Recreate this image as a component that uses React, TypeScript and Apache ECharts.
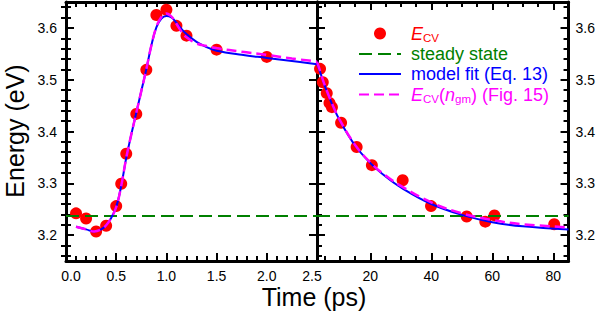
import React, { useEffect, useRef } from 'react';
import * as echarts from 'echarts';

// ---- data ----
const leftTimes = [0.1, 0.2, 0.3, 0.4, 0.5, 0.55, 0.6, 0.7, 0.8, 0.9, 1.0, 1.1, 1.2, 1.5, 2.0];
const leftEcv = [3.242, 3.232, 3.207, 3.218, 3.256, 3.299, 3.357, 3.434, 3.519, 3.625, 3.635, 3.604, 3.585, 3.558, 3.544];

const rightTimes = [3.5, 4.4, 5.7, 6.6, 7.4, 10.4, 15.5, 20.5, 30.6, 39.9, 51.6, 57.7, 60.7, 80.3];
const rightEcv = [3.521, 3.495, 3.474, 3.455, 3.447, 3.417, 3.370, 3.335, 3.306, 3.256, 3.236, 3.226, 3.238, 3.221];

const leftFitTimes = [0.1, 0.2, 0.28, 0.35, 0.4, 0.45, 0.5, 0.55, 0.6, 0.65, 0.7, 0.75, 0.8, 0.85, 0.9, 0.95, 1.0, 1.05, 1.1, 1.15, 1.2, 1.3, 1.4, 1.5, 1.75, 2.0, 2.25, 2.5];
const leftFitE = [3.216, 3.211, 3.207, 3.211, 3.219, 3.233, 3.254, 3.295, 3.349, 3.394, 3.436, 3.478, 3.520, 3.566, 3.601, 3.618, 3.623, 3.620, 3.610, 3.598, 3.588, 3.573, 3.563, 3.556, 3.548, 3.542, 3.536, 3.530];
const leftMagE = [3.216, 3.211, 3.207, 3.211, 3.219, 3.233, 3.254, 3.295, 3.349, 3.394, 3.436, 3.478, 3.520, 3.566, 3.602, 3.621, 3.628, 3.622, 3.608, 3.593, 3.582, 3.570, 3.565, 3.561, 3.554, 3.548, 3.541, 3.535];

const rightFitTimes = [2.5, 3.5, 5, 7.5, 10, 15, 20, 25, 30, 40, 50, 60, 70, 85];
const rightFitE = [3.531, 3.515, 3.489, 3.452, 3.421, 3.373, 3.339, 3.313, 3.292, 3.260, 3.239, 3.225, 3.217, 3.211];
const rightMagE = [3.535, 3.517, 3.490, 3.453, 3.422, 3.374, 3.340, 3.315, 3.295, 3.263, 3.242, 3.229, 3.221, 3.215];

const steadyState = 3.237;

const yMajorTicks = [3.2, 3.3, 3.4, 3.5, 3.6];
const yMinorTicks = [3.16, 3.18, 3.22, 3.24, 3.26, 3.28, 3.32, 3.34, 3.36, 3.38, 3.42, 3.44, 3.46, 3.48, 3.52, 3.54, 3.56, 3.58, 3.62, 3.64];
const rightXMajorTicks = [20, 40, 60, 80];
const rightXMinorTicks = [5, 10, 15, 25, 30, 35, 45, 50, 55, 65, 70, 75];

const NAME_ECV = 'E_CV';
const NAME_SS = 'steady state';
const NAME_FIT = 'model fit (Eq. 13)';
const NAME_MAG = 'E_CV(n_gm) (Fig. 15)';

const FONT = '"Liberation Sans", Arial, Helvetica, sans-serif';
const RED = '#ff0000';
const GREEN = '#008000';
const BLUE = '#0000ff';
const MAGENTA = '#ff00ff';

const zip = (xs: number[], ys: number[]) => xs.map((x, i) => [x, ys[i]]);

export default function App() {
  const ref = useRef<HTMLDivElement>(null);

  useEffect(() => {
    if (!ref.current) return;
    const chart = echarts.init(ref.current, null, { renderer: 'svg' });

    const Y_MIN = 3.15;
    const Y_MAX = 3.65;

    const lineW = 3;
    const majorLen = 8;
    const minorLen = 5;
    const tickStyle = { color: '#000', width: 2 };

    const yMajor = (gridIndex: number, position: 'left' | 'right', labels: boolean) => ({
      type: 'value',
      gridIndex,
      position,
      min: Y_MIN,
      max: Y_MAX,
      axisLine: { show: true, onZero: false, lineStyle: { color: '#000', width: lineW } },
      axisTick: { show: true, inside: true, length: majorLen, lineStyle: tickStyle, customValues: yMajorTicks },
      axisLabel: {
        show: labels,
        customValues: yMajorTicks,
        formatter: (v: number) => v.toFixed(1),
        fontFamily: FONT,
        fontSize: 14,
        color: '#000',
        margin: position === 'left' ? 9 : 7,
      },
      splitLine: { show: false },
    });
    const yMinor = (gridIndex: number, position: 'left' | 'right') => ({
      type: 'value',
      gridIndex,
      position,
      min: Y_MIN,
      max: Y_MAX,
      axisLine: { show: false },
      axisTick: { show: true, inside: true, length: minorLen, lineStyle: tickStyle, customValues: yMinorTicks },
      axisLabel: { show: false },
      splitLine: { show: false },
    });

    const leftX = (position: 'bottom' | 'top', labels: boolean) => ({
      type: 'value',
      gridIndex: 0,
      position,
      min: 0,
      max: 2.5,
      interval: 0.5,
      axisLine: { show: true, onZero: false, lineStyle: { color: '#000', width: lineW } },
      axisTick: { show: true, inside: true, length: majorLen, lineStyle: tickStyle },
      minorTick: { show: true, splitNumber: 5, length: minorLen, lineStyle: tickStyle },
      axisLabel: {
        show: labels,
        fontFamily: FONT,
        fontSize: 14,
        color: '#000',
        margin: 8,
        formatter: (v: number) =>
          v === 0 ? '{a|0.0}' : v === 2.5 ? '{b|2.5}' : v.toFixed(1),
        rich: {
          a: { fontFamily: FONT, fontSize: 14, color: '#000', padding: [0, 0, 0, 10] },
          b: { fontFamily: FONT, fontSize: 14, color: '#000', padding: [0, 10, 0, 0] },
        },
      },
      splitLine: { show: false },
      minorSplitLine: { show: false },
    });
    const rightXMajor = (position: 'bottom' | 'top', labels: boolean) => ({
      type: 'value',
      gridIndex: 1,
      position,
      min: 2.5,
      max: 85,
      axisLine: { show: true, onZero: false, lineStyle: { color: '#000', width: lineW } },
      axisTick: { show: true, inside: true, length: majorLen, lineStyle: tickStyle, customValues: rightXMajorTicks },
      axisLabel: {
        show: labels,
        customValues: rightXMajorTicks,
        formatter: (v: number) => String(v),
        fontFamily: FONT,
        fontSize: 14,
        color: '#000',
        margin: 8,
      },
      splitLine: { show: false },
    });
    const rightXMinor = (position: 'bottom' | 'top') => ({
      type: 'value',
      gridIndex: 1,
      position,
      min: 2.5,
      max: 85,
      axisLine: { show: false },
      axisTick: { show: true, inside: true, length: minorLen, lineStyle: tickStyle, customValues: rightXMinorTicks },
      axisLabel: { show: false },
      splitLine: { show: false },
    });

    const hiddenSymbol = { opacity: 0, color: 'rgba(0,0,0,0)', borderWidth: 0 };

    const option: any = {
      animation: false,
      backgroundColor: '#ffffff',
      grid: [
        { left: 66, top: 2, width: 251, height: 259, containLabel: false },
        { left: 317, top: 2, width: 252, height: 259, containLabel: false },
      ],
      xAxis: [
        leftX('bottom', true), // 0
        leftX('top', false), // 1
        rightXMajor('bottom', true), // 2
        rightXMinor('bottom'), // 3
        rightXMajor('top', false), // 4
        rightXMinor('top'), // 5
      ],
      yAxis: [
        yMajor(0, 'left', true), // 0
        yMinor(0, 'left'), // 1
        yMajor(0, 'right', false), // 2
        yMinor(0, 'right'), // 3
        yMajor(1, 'left', false), // 4
        yMinor(1, 'left'), // 5
        yMajor(1, 'right', true), // 6
        yMinor(1, 'right'), // 7
      ],
      legend: {
        orient: 'vertical',
        left: 358,
        top: 23,
        padding: 0,
        itemGap: 0,
        itemWidth: 42,
        itemHeight: 12,
        selectedMode: false,
        textStyle: {
          fontFamily: FONT,
          fontSize: 18,
          lineHeight: 20,
          padding: [0, 0, 0, 5],
          rich: {
            rI: { fontFamily: FONT, fontSize: 18, fontStyle: 'italic', color: RED, lineHeight: 20 },
            rS: { fontFamily: FONT, fontSize: 11.5, color: RED, lineHeight: 20, padding: [9, 0, 0, 0] },
            mI: { fontFamily: FONT, fontSize: 18, fontStyle: 'italic', color: MAGENTA, lineHeight: 20 },
            mS: { fontFamily: FONT, fontSize: 11.5, color: MAGENTA, lineHeight: 20, padding: [9, 0, 0, 0] },
            m: { fontFamily: FONT, fontSize: 18, color: MAGENTA, lineHeight: 20 },
          },
        },
        data: [
          { name: NAME_ECV, textStyle: { color: RED } },
          { name: NAME_SS, textStyle: { color: GREEN }, itemStyle: hiddenSymbol },
          { name: NAME_FIT, textStyle: { color: BLUE }, itemStyle: hiddenSymbol },
          { name: NAME_MAG, textStyle: { color: MAGENTA }, itemStyle: hiddenSymbol },
        ],
        formatter: (name: string) => {
          if (name === NAME_ECV) return '{rI|E}{rS|CV}';
          if (name === NAME_MAG) return '{mI|E}{mS|CV}{m|(}{mI|n}{mS|gm}{m|) (Fig. 15)}';
          return name;
        },
      },
      graphic: [
        {
          type: 'text',
          x: 314,
          y: 297,
          style: { text: 'Time (ps)', fontFamily: FONT, fontSize: 25, fill: '#000', align: 'center', verticalAlign: 'middle' },
        },
        {
          type: 'text',
          x: 15,
          y: 131,
          rotation: Math.PI / 2,
          style: { text: 'Energy (eV)', fontFamily: FONT, fontSize: 25, fill: '#000', align: 'center', verticalAlign: 'middle' },
        },
      ],
      series: [
        {
          name: NAME_ECV,
          type: 'scatter',
          xAxisIndex: 0,
          yAxisIndex: 0,
          symbol: 'circle',
          symbolSize: 12,
          itemStyle: { color: RED, opacity: 1 },
          data: zip(leftTimes, leftEcv),
          z: 2,
        },
        {
          name: NAME_ECV,
          type: 'scatter',
          xAxisIndex: 2,
          yAxisIndex: 4,
          symbol: 'circle',
          symbolSize: 12,
          itemStyle: { color: RED, opacity: 1 },
          data: zip(rightTimes, rightEcv),
          z: 2,
        },
        {
          name: NAME_SS,
          type: 'line',
          xAxisIndex: 0,
          yAxisIndex: 0,
          symbol: 'none',
          color: GREEN,
          lineStyle: { color: GREEN, width: 2, type: [13, 6] },
          data: [[0, steadyState], [2.5, steadyState]],
          z: 3,
        },
        {
          name: NAME_SS,
          type: 'line',
          xAxisIndex: 2,
          yAxisIndex: 4,
          symbol: 'none',
          color: GREEN,
          lineStyle: { color: GREEN, width: 2, type: [13, 6] },
          data: [[2.5, steadyState], [85, steadyState]],
          z: 3,
        },
        {
          name: NAME_FIT,
          type: 'line',
          xAxisIndex: 0,
          yAxisIndex: 0,
          symbol: 'none',
          smooth: 0.4,
          color: BLUE,
          lineStyle: { color: BLUE, width: 2 },
          data: zip(leftFitTimes, leftFitE),
          z: 4,
        },
        {
          name: NAME_FIT,
          type: 'line',
          xAxisIndex: 2,
          yAxisIndex: 4,
          symbol: 'none',
          smooth: 0.4,
          color: BLUE,
          lineStyle: { color: BLUE, width: 2 },
          data: zip(rightFitTimes, rightFitE),
          z: 4,
        },
        {
          name: NAME_MAG,
          type: 'line',
          xAxisIndex: 0,
          yAxisIndex: 0,
          symbol: 'none',
          smooth: 0.4,
          color: MAGENTA,
          lineStyle: { color: MAGENTA, width: 2.5, type: [10, 5] },
          data: zip(leftFitTimes, leftMagE),
          z: 5,
        },
        {
          name: NAME_MAG,
          type: 'line',
          xAxisIndex: 2,
          yAxisIndex: 4,
          symbol: 'none',
          smooth: 0.4,
          color: MAGENTA,
          lineStyle: { color: MAGENTA, width: 2.5, type: [10, 5] },
          data: zip(rightFitTimes, rightMagE),
          z: 5,
        },
      ],
    };

    chart.setOption(option);
    return () => {
      chart.dispose();
    };
  }, []);

  return (
    <div
      ref={ref}
      style={{ position: 'fixed', left: 0, top: 0, width: 598, height: 316, background: '#fff' }}
    />
  );
}
